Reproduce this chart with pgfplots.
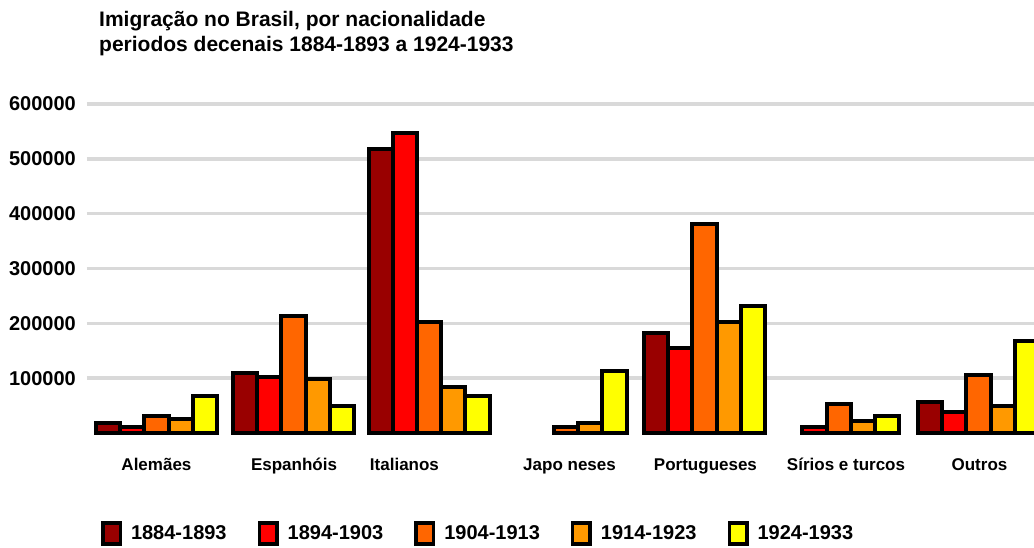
\documentclass[border=0pt]{standalone}
\usepackage{fontspec}
\setmainfont{Liberation Sans}
\usepackage{pgfplots}
\usepackage{pgfplotstable}
\pgfplotsset{compat=1.18}
\definecolor{c1}{HTML}{990000}
\definecolor{c2}{HTML}{FF0000}
\definecolor{c3}{HTML}{FF6600}
\definecolor{c4}{HTML}{FF9900}
\definecolor{c5}{HTML}{FFFF00}
\definecolor{gridc}{HTML}{D9D9D9}
% x: 0 Alemaes, 1 Espanhois, 2 Italianos, 3 Japoneses, 4 Portugueses, 5 Sirios e turcos, 6 Outros
\pgfplotstableread{
x y
0 18000
1 109500
1.99 518000
4 182500
6 56500
}\sA
\pgfplotstableread{
x y
0 10500
1 102000
1.99 547000
4 155500
4.98 10500
6 38500
}\sB
\pgfplotstableread{
x y
0 31000
1 213500
1.99 202500
2.99 10500
4 381000
4.98 53500
6 106000
}\sC
\pgfplotstableread{
x y
0 25500
1 98500
1.99 84000
2.99 19000
4 202500
4.98 22000
6 50000
}\sD
\pgfplotstableread{
x y
0 67000
1 49000
1.99 67500
2.99 113000
4 231500
4.98 31500
6 168000
}\sE
\begin{document}
\begin{tikzpicture}
\begin{axis}[
  at={(87pt,114pt)}, anchor=south west,
  scale only axis, width=947pt, height=329pt,
  xmin=-0.507, xmax=6.405, ymin=0, ymax=600000,
  clip=false,
  scaled y ticks=false,
  ybar=0pt, bar width=24.2pt,
  axis line style={draw=none},
  major tick length=0pt,
  ytick={100000,200000,300000,400000,500000,600000},
  yticklabels={100000,200000,300000,400000,500000,600000},
  ymajorgrids, major grid style={line width=3.5pt, color=gridc},
  xtick={0,1.004,1.81,3.015,4.007,5.033,6.007},
  xticklabels={Alemães,Espanhóis,Italianos,Japo neses,Portugueses,Sírios e turcos,Outros},
  xticklabel style={font=\bfseries\fontsize{17}{20}\selectfont, anchor=north, inner sep=0pt, yshift=-24.8pt, text height=12.2pt},
  yticklabel style={font=\bfseries\fontsize{20}{24}\selectfont, anchor=east, inner sep=0pt, xshift=-11pt},
  every axis plot/.append style={draw=black, line width=4pt},
  legend columns=5,
  legend style={at={(rel axis cs:0,0)}, anchor=north west, xshift=14pt, yshift=-88pt,
    draw=none, fill=none, inner sep=0pt, outer sep=0pt,
    font=\bfseries\fontsize{20}{24}\selectfont,
    nodes={inner sep=0pt},
    /tikz/every odd column/.append style={column sep=9pt},
    /tikz/every even column/.append style={column sep=31pt}},
  legend image code/.code={\draw[#1,draw=black,line width=3.5pt] (0pt,-10.5pt) rectangle (17.5pt,10.5pt);},
]
\addplot[fill=c1] table {\sA};
\addplot[fill=c2] table {\sB};
\addplot[fill=c3] table {\sC};
\addplot[fill=c4] table {\sD};
\addplot[fill=c5] table {\sE};
\legend{1884-1893,1894-1903,1904-1913,1914-1923,1924-1933}
\end{axis}
\node[anchor=base west, inner sep=0pt, font=\bfseries\fontsize{21}{25}\selectfont] at (99pt,520pt) {Imigração no Brasil, por nacionalidade};
\node[anchor=base west, inner sep=0pt, font=\bfseries\fontsize{21}{25}\selectfont] at (99pt,495pt) {periodos decenais 1884-1893 a 1924-1933};
\pgfresetboundingbox
\path[use as bounding box] (0,0) rectangle (1034pt,547pt);
\end{tikzpicture}
\end{document}
